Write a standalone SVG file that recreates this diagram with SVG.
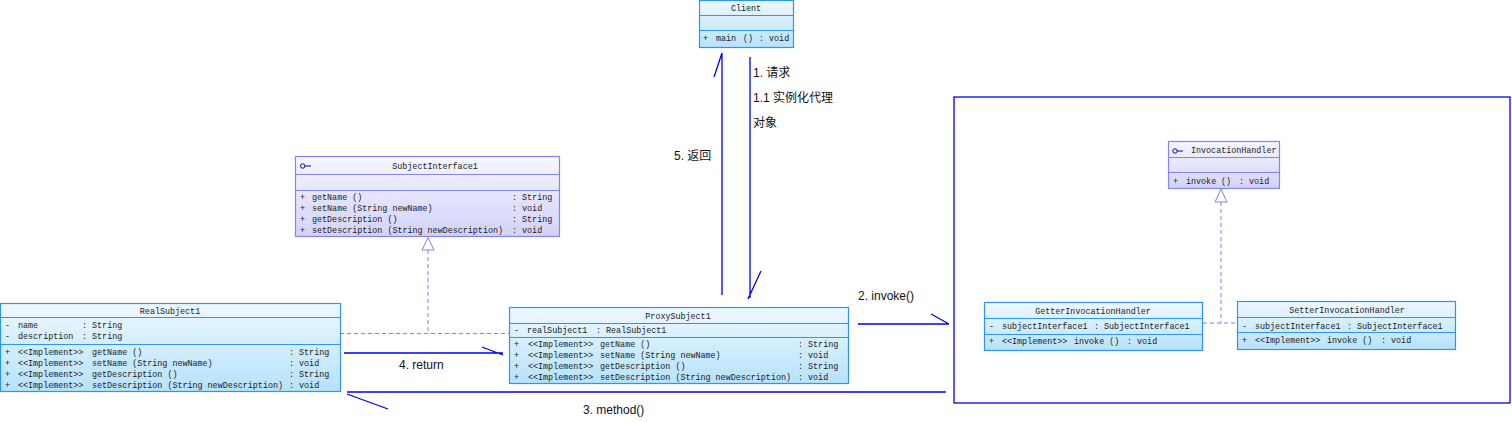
<svg xmlns="http://www.w3.org/2000/svg" width="1512" height="422" viewBox="0 0 1512 422">
<defs>
<linearGradient id="gc" x1="0" y1="0" x2="0" y2="1"><stop offset="0" stop-color="#EEF8FF"/><stop offset="1" stop-color="#B6E2FB"/></linearGradient>
<linearGradient id="gi" x1="0" y1="0" x2="0" y2="1"><stop offset="0" stop-color="#F6F6FF"/><stop offset="1" stop-color="#D2D2FA"/></linearGradient>
</defs>
<style>
.cls{fill:url(#gc);stroke:#2E95F5;stroke-width:1.2}
.sepc{stroke:#2E95F5;stroke-width:1.2}
.itf{fill:url(#gi);stroke:#8484EE;stroke-width:1.2}
.sepi{stroke:#8484EE;stroke-width:1.2}
.t{font-family:"Liberation Mono",monospace;font-size:8.4px;fill:#1a1a1a}
.c{text-anchor:middle}
.lbl{font-family:"Liberation Sans","Noto Sans CJK SC",sans-serif;font-size:12px;fill:#111}
.ln{stroke:#0000F0;stroke-width:1.3;fill:none}
.dash{stroke:#8080EE;stroke-width:1;stroke-dasharray:4,3;fill:none}
.tri{fill:#fff;stroke:#8080EE;stroke-width:1}
.ico{stroke:#0000C0;stroke-width:1;fill:none}
</style>
<rect x="954" y="97" width="556" height="306" fill="none" stroke="#0000F0" stroke-width="1.3"/>
<g id="connectors">
<path class="dash" d="M340 333.5 H509 M428 250 V333.5"/>
<path class="tri" d="M428 237.5 L422 250 L434 250 Z"/>
<path class="dash" d="M1203 323 H1237 M1221 202 V323"/>
<path class="tri" d="M1221 189 L1215 202 L1227 202 Z"/>
<path class="ln" d="M722 295 V53 M722 53 L714 77"/>
<path class="ln" d="M750 57 V298 M748 299 L761 271"/>
<path class="ln" d="M858 324 H949 M931 314 L949 324"/>
<path class="ln" d="M344 353 H503 M482 347 L503 355"/>
<path class="ln" d="M946 392 H347 M347 394 L388 409"/>
</g>
<g id="labels">
<text class="lbl" x="753" y="77">1. 请求</text>
<text class="lbl" x="753" y="102">1.1 实例化代理</text>
<text class="lbl" x="753" y="127">对象</text>
<text class="lbl" x="674" y="160">5. 返回</text>
<text class="lbl" x="858" y="300">2. invoke()</text>
<text class="lbl" x="399" y="369">4. return</text>
<text class="lbl" x="583" y="414">3. method()</text>
</g>
<g id="Client">
<rect class="cls" x="699.5" y="0.5" width="94" height="47"/>
<path class="sepc" d="M699.5 15.5 H793.5 M699.5 30.5 H793.5"/>
<text class="t c" x="746" y="11">Client</text>
<text class="t" x="703" y="40.5">+</text><text class="t" x="716" y="40.5">main</text><text class="t" x="743" y="40.5">()</text><text class="t" x="759" y="40.5">: void</text>
</g>
<g id="SubjectInterface1">
<rect class="itf" x="295.5" y="156.5" width="264" height="80"/>
<path class="sepi" d="M295.5 174.5 H559.5 M295.5 190.5 H559.5"/>
<circle class="ico" cx="302.7" cy="166" r="2.2"/><path class="ico" d="M305 166 H311"/>
<text class="t c" x="435" y="168.5">SubjectInterface1</text>
<text class="t" x="300" y="200">+</text><text class="t" x="312" y="200">getName ()</text><text class="t" x="512" y="200">: String</text>
<text class="t" x="300" y="211">+</text><text class="t" x="312" y="211">setName (String newName)</text><text class="t" x="512" y="211">: void</text>
<text class="t" x="300" y="222">+</text><text class="t" x="312" y="222">getDescription ()</text><text class="t" x="512" y="222">: String</text>
<text class="t" x="300" y="233">+</text><text class="t" x="312" y="233">setDescription (String newDescription)</text><text class="t" x="512" y="233">: void</text>
</g>
<g id="RealSubject1">
<rect class="cls" x="0.5" y="303.5" width="340" height="88"/>
<path class="sepc" d="M0.5 317.5 H340.5 M0.5 344.5 H340.5"/>
<text class="t c" x="170" y="314">RealSubject1</text>
<text class="t" x="5" y="328">-</text><text class="t" x="18" y="328">name</text><text class="t" x="82" y="328">: String</text>
<text class="t" x="5" y="339">-</text><text class="t" x="18" y="339">description</text><text class="t" x="82" y="339">: String</text>
<text class="t" x="5" y="355">+</text><text class="t" x="18" y="355">&lt;&lt;Implement&gt;&gt;</text><text class="t" x="92" y="355">getName ()</text><text class="t" x="289" y="355">: String</text>
<text class="t" x="5" y="366">+</text><text class="t" x="18" y="366">&lt;&lt;Implement&gt;&gt;</text><text class="t" x="92" y="366">setName (String newName)</text><text class="t" x="289" y="366">: void</text>
<text class="t" x="5" y="377">+</text><text class="t" x="18" y="377">&lt;&lt;Implement&gt;&gt;</text><text class="t" x="92" y="377">getDescription ()</text><text class="t" x="289" y="377">: String</text>
<text class="t" x="5" y="388">+</text><text class="t" x="18" y="388">&lt;&lt;Implement&gt;&gt;</text><text class="t" x="92" y="388">setDescription (String newDescription)</text><text class="t" x="289" y="388">: void</text>
</g>
<g id="ProxySubject1">
<rect class="cls" x="509.5" y="307.5" width="339" height="76"/>
<path class="sepc" d="M509.5 323.5 H848.5 M509.5 337.5 H848.5"/>
<text class="t c" x="678" y="319">ProxySubject1</text>
<text class="t" x="514" y="333">-</text><text class="t" x="527" y="333">realSubject1</text><text class="t" x="596" y="333">: RealSubject1</text>
<text class="t" x="514" y="347">+</text><text class="t" x="528" y="347">&lt;&lt;Implement&gt;&gt;</text><text class="t" x="600" y="347">getName ()</text><text class="t" x="798" y="347">: String</text>
<text class="t" x="514" y="358">+</text><text class="t" x="528" y="358">&lt;&lt;Implement&gt;&gt;</text><text class="t" x="600" y="358">setName (String newName)</text><text class="t" x="798" y="358">: void</text>
<text class="t" x="514" y="369">+</text><text class="t" x="528" y="369">&lt;&lt;Implement&gt;&gt;</text><text class="t" x="600" y="369">getDescription ()</text><text class="t" x="798" y="369">: String</text>
<text class="t" x="514" y="380">+</text><text class="t" x="528" y="380">&lt;&lt;Implement&gt;&gt;</text><text class="t" x="600" y="380">setDescription (String newDescription)</text><text class="t" x="798" y="380">: void</text>
</g>
<g id="InvocationHandler">
<rect class="itf" x="1168.5" y="141.5" width="111" height="47"/>
<path class="sepi" d="M1168.5 157.5 H1279.5 M1168.5 172.5 H1279.5"/>
<circle class="ico" cx="1175" cy="151" r="2.2"/><path class="ico" d="M1177.2 151 H1183"/>
<text class="t" x="1191" y="152.5">InvocationHandler</text>
<text class="t" x="1173" y="184">+</text><text class="t" x="1186" y="184">invoke</text><text class="t" x="1221" y="184">()</text><text class="t" x="1239" y="184">: void</text>
</g>
<g id="GetterInvocationHandler">
<rect class="cls" x="984.5" y="302.5" width="218" height="48"/>
<path class="sepc" d="M984.5 318.5 H1202.5 M984.5 334.5 H1202.5"/>
<text class="t c" x="1093" y="313.5">GetterInvocationHandler</text>
<text class="t" x="989" y="329">-</text><text class="t" x="1002" y="329">subjectInterface1</text><text class="t" x="1094" y="329">: SubjectInterface1</text>
<text class="t" x="989" y="344">+</text><text class="t" x="1002" y="344">&lt;&lt;Implement&gt;&gt;</text><text class="t" x="1074" y="344">invoke ()</text><text class="t" x="1127" y="344">: void</text>
</g>
<g id="SetterInvocationHandler">
<rect class="cls" x="1237.5" y="301.5" width="218" height="48"/>
<path class="sepc" d="M1237.5 317.5 H1455.5 M1237.5 332.5 H1455.5"/>
<text class="t c" x="1347" y="313">SetterInvocationHandler</text>
<text class="t" x="1242" y="328.5">-</text><text class="t" x="1255" y="328.5">subjectInterface1</text><text class="t" x="1347" y="328.5">: SubjectInterface1</text>
<text class="t" x="1242" y="343">+</text><text class="t" x="1255" y="343">&lt;&lt;Implement&gt;&gt;</text><text class="t" x="1327" y="343">invoke ()</text><text class="t" x="1381" y="343">: void</text>
</g>
</svg>
